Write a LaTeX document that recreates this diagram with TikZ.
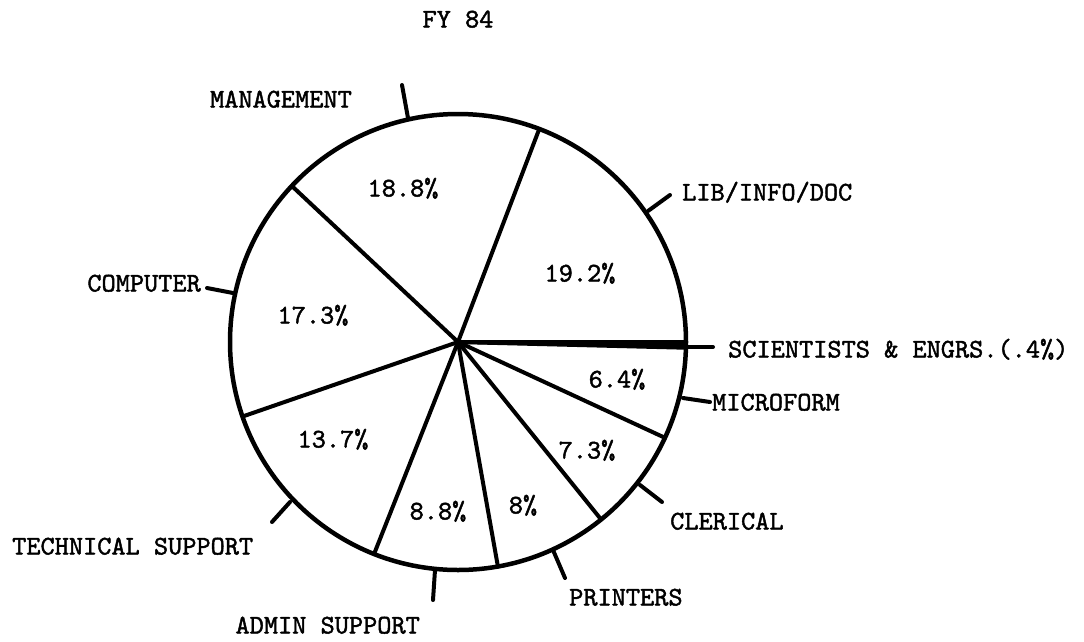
\documentclass[tikz,border=0pt]{standalone}
\usepackage{fontspec}
\newfontfamily\tw{lmmono10-regular.otf}[FakeBold=1.6]
\begin{document}
\begin{tikzpicture}[x=1pt,y=1pt,
  lbl/.style={font=\tw\fontsize{27}{30}\selectfont, inner sep=0pt, text height=15pt, text depth=0pt},
  rim/.style={line width=4.5pt},
  spoke/.style={line width=4pt, line cap=round},
  leader/.style={line width=4pt, line cap=round}]
\useasboundingbox (0,0) rectangle (1084,-641);
\coordinate (O) at (458,-342);
% pie
\draw[rim] (O) circle[radius=228];
\foreach \a in {-1.44,0,69.12,136.8,199.08,248.4,280.08,308.88,335.16}
  \draw[spoke] (O) -- ++(\a:228);
% title
\node[lbl] (fy) at (458,-20) {FY 84};
% percentages
\node[lbl] (p1) at (580,-274) {19.2\%};
\node[lbl] (p2) at (403,-189) {18.8\%};
\node[lbl] (p3) at (313,-316) {17.3\%};
\node[lbl] (p4) at (333,-440) {13.7\%};
\node[lbl] (p5) at (438,-512) {8.8\%};
\node[lbl] (p6) at (523,-506) {8\%};
\node[lbl] (p7) at (587,-451) {7.3\%};
\node[lbl] (p8) at (617,-380) {6.4\%};
% outer labels
\node[lbl,anchor=east] (mgmt) at (352,-100) {MANAGEMENT};
\node[lbl,anchor=west] (lib) at (682,-193) {LIB/INFO/DOC};
\node[lbl,anchor=west] (sci) at (728,-350) {SCIENTISTS \& ENGRS.(.4\%)};
\node[lbl,anchor=west] (micro) at (712,-403) {MICROFORM};
\node[lbl,anchor=west] (cler) at (670,-522) {CLERICAL};
\node[lbl,anchor=west] (prin) at (569,-598) {PRINTERS};
\node[lbl,anchor=east] (admin) at (420,-626) {ADMIN SUPPORT};
\node[lbl,anchor=west] (tech) at (12,-547) {TECHNICAL SUPPORT};
\node[lbl,anchor=east] (comp) at (201,-284) {COMPUTER};
% leader ends
\coordinate (mA) at (408,-118); \coordinate (mB) at (402,-85);
\coordinate (lA) at (648,-211); \coordinate (lB) at (670,-195);
\coordinate (sA) at (684,-347); \coordinate (sB) at (713,-347);
\coordinate (iA) at (683,-398); \coordinate (iB) at (710,-402);
\coordinate (cA) at (640,-485); \coordinate (cB) at (662,-502);
\coordinate (rA) at (553,-550); \coordinate (rB) at (565,-578);
\coordinate (aA) at (435,-570); \coordinate (aB) at (433,-600);
\coordinate (tA) at (290,-502); \coordinate (tB) at (272,-522);
\coordinate (kA) at (233,-293); \coordinate (kB) at (207,-288);
\foreach \s/\e in {mA/mB,lA/lB,sA/sB,iA/iB,cA/cB,rA/rB,aA/aB,tA/tB,kA/kB}
  \draw[leader] (\s) -- (\e);
\draw[spoke] (O) -- ++(-0.72:228);
\end{tikzpicture}
\end{document}
